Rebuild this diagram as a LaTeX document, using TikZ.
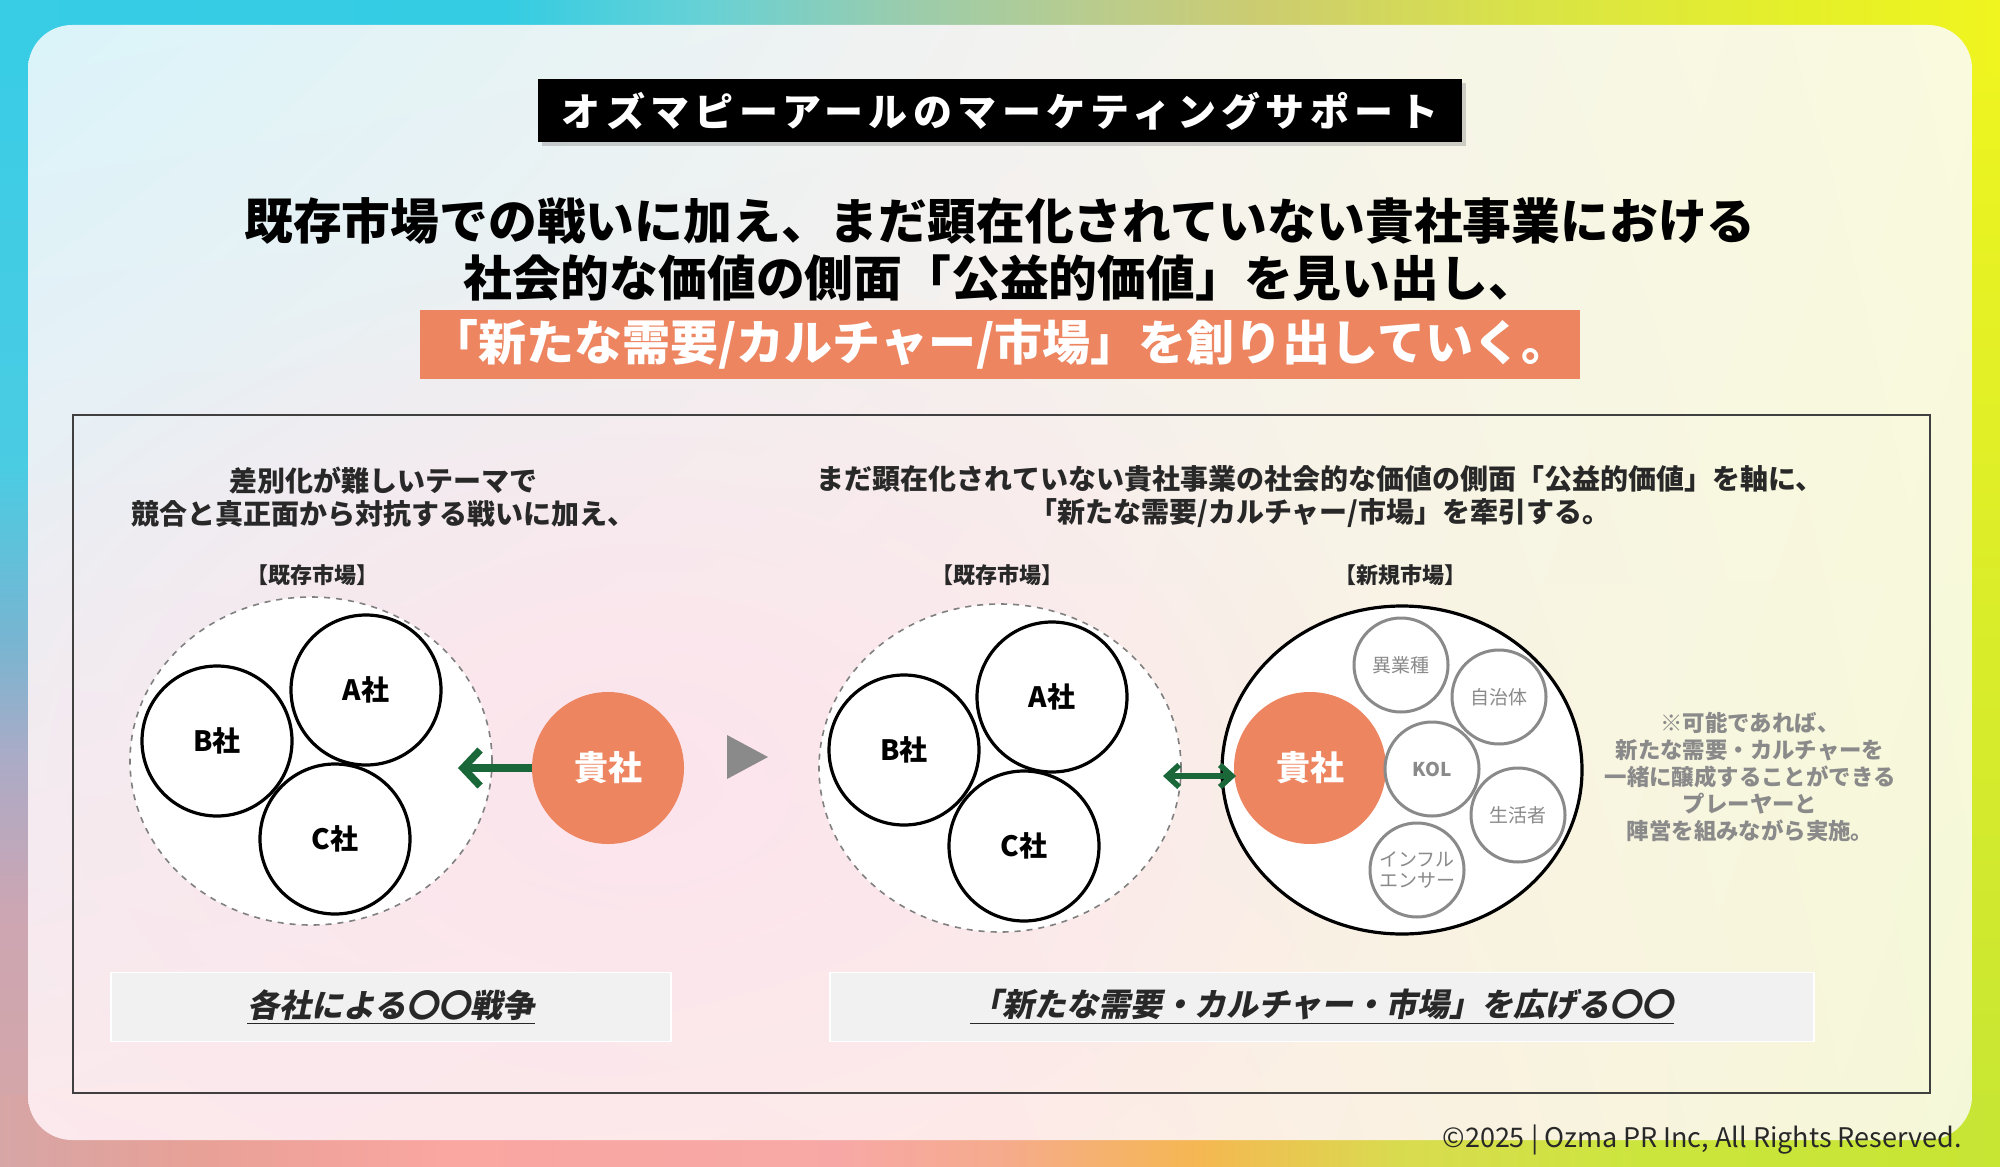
\documentclass[tikz,border=0pt]{standalone}
\usepackage{fontspec}
\setmainfont{Noto Sans CJK JP}
\usetikzlibrary{shapes.geometric,arrows.meta,shadows,shadings,fadings}

\newcommand{\ozfs}[2]{\fontsize{#1}{#2}\selectfont}

\definecolor{ozorange}{RGB}{236,133,96}
\definecolor{ozgreen}{RGB}{26,104,58}
\definecolor{plgray}{RGB}{138,138,138}
\definecolor{txtdark}{RGB}{40,40,40}
\definecolor{boxgray}{RGB}{241,241,241}
\definecolor{bgTR}{rgb}{0.94,0.96,0.12}
\definecolor{bgBR}{rgb}{0.78,0.90,0.20}
\definecolor{pinkglow}{RGB}{253,228,236}
\tikzfading[name=glowfade, inner color=transparent!0, outer color=transparent!100]
% outer gradient (stops kept in 25bp..75bp)
\pgfdeclarehorizontalshading{topstrip}{100bp}{rgb(0bp)=(0.22,0.80,0.90); rgb(25bp)=(0.22,0.80,0.90); rgb(37.5bp)=(0.20,0.80,0.89);
  rgb(42.5bp)=(0.40,0.82,0.84); rgb(47.5bp)=(0.60,0.80,0.68); rgb(52.5bp)=(0.73,0.80,0.55); rgb(56.5bp)=(0.80,0.80,0.44);
  rgb(63bp)=(0.85,0.89,0.28); rgb(70bp)=(0.90,0.94,0.16); rgb(75bp)=(0.94,0.96,0.12); rgb(100bp)=(0.94,0.96,0.12)}
\pgfdeclarehorizontalshading{bottomstrip}{100bp}{rgb(0bp)=(0.84,0.65,0.65); rgb(25bp)=(0.84,0.65,0.65); rgb(30bp)=(0.91,0.63,0.59);
  rgb(36bp)=(0.98,0.65,0.63); rgb(46bp)=(0.97,0.66,0.65); rgb(50bp)=(0.96,0.67,0.55); rgb(55bp)=(0.96,0.72,0.32);
  rgb(60bp)=(0.85,0.86,0.31); rgb(66bp)=(0.80,0.90,0.24); rgb(75bp)=(0.78,0.90,0.20); rgb(100bp)=(0.78,0.90,0.20)}
\pgfdeclareverticalshading{leftcol}{100bp}{rgb(0bp)=(0.84,0.65,0.65); rgb(25bp)=(0.84,0.65,0.65); rgb(36bp)=(0.80,0.65,0.70);
  rgb(42.5bp)=(0.67,0.67,0.78); rgb(47.5bp)=(0.47,0.71,0.82); rgb(55bp)=(0.29,0.80,0.89); rgb(75bp)=(0.22,0.80,0.90); rgb(100bp)=(0.22,0.80,0.90)}
% card gradient
\definecolor{cdUL}{RGB}{218,244,250}
\definecolor{cdUM}{RGB}{242,242,240}
\definecolor{cdUR}{RGB}{250,250,222}
\definecolor{cdLL}{RGB}{252,233,237}
\definecolor{cdLM}{RGB}{253,236,232}
\definecolor{cdLR}{RGB}{245,248,216}

\begin{document}
\begin{tikzpicture}[x=0.5pt,y=-0.5pt,
  titlebox/.style={fill=black, text=white, minimum width=462pt, minimum height=31.5pt, inner sep=0pt,
    font={\ozfs{19.5}{22}\bfseries\addfontfeature{LetterSpace=14}},
    drop shadow={shadow xshift=2pt, shadow yshift=-2pt, opacity=0.35}},
  headline/.style={inner sep=0pt, text=black, font={\ozfs{24.4}{28}\bfseries}},
  orangeband/.style={fill=ozorange, text=white, minimum width=580pt, minimum height=34.5pt, inner sep=0pt,
    font={\ozfs{24}{28}\bfseries}},
  framebox/.style={draw=black!75, line width=0.9pt},
  subtext/.style={align=center, text=txtdark, inner sep=0pt, font={\ozfs{14}{16.5}\bfseries}},
  mktlabel/.style={inner sep=0pt, text=txtdark, font={\ozfs{11}{13}\bfseries}},
  market/.style={ellipse, draw=black!50, dashed, line width=0.8pt, fill=white, minimum width=181pt, minimum height=164pt},
  newmarket/.style={ellipse, draw=black, line width=1.6pt, fill=white, minimum width=180pt, minimum height=164pt},
  company/.style={circle, draw=black, line width=1.6pt, fill=white, minimum size=75pt, inner sep=0pt,
    font={\ozfs{14}{16}\bfseries}},
  ourco/.style={circle, fill=ozorange, text=white, minimum size=76pt, inner sep=0pt, font={\ozfs{17}{19}\bfseries}},
  player/.style={circle, draw=plgray, line width=1.5pt, fill=white, text=plgray, minimum size=47pt, inner sep=0pt,
    align=center, font={\ozfs{9.5}{10.5}}},
  pusharrow/.style={draw=ozgreen, line width=3.7pt, -{Straight Barb[length=8.5pt, width=18pt, line width=3.7pt]}},
  bothways/.style={draw=ozgreen, line width=2.8pt, {Straight Barb[length=6pt, width=11pt, line width=2.8pt]}-{Straight Barb[length=6pt, width=11pt, line width=2.8pt]}},
  note/.style={align=center, text=plgray, inner sep=0pt, font={\ozfs{11.2}{13.5}\bfseries}},
  resultbox/.style={fill=boxgray, draw=white, line width=0.6pt, minimum height=34.5pt, inner sep=0pt, text=txtdark,
    font={\ozfs{16}{18}\bfseries\addfontfeature{FakeSlant=0.2}}},
  copyr/.style={inner sep=0pt, text=txtdark, font={\ozfs{13.5}{15}}}
]
\useasboundingbox (0,0) rectangle (2000,1166);

% background
\shade[shading=leftcol] (0,0) rectangle (80,1166);
\shade[top color=bgTR, bottom color=bgBR] (1920,0) rectangle (2000,1166);
\shade[shading=topstrip] (0,0) rectangle (2000,75);
\shade[shading=bottomstrip] (0,1095) rectangle (2000,1166);
\begin{scope}
\clip[rounded corners=22pt] (28,25) rectangle (1972,1140);
\shade[upper left=cdUL, upper right=cdUM, lower left=cdLL, lower right=cdLM] (28,25) rectangle (1000,1140);
\shade[upper left=cdUM, upper right=cdUR, lower left=cdLM, lower right=cdLR] (1000,25) rectangle (1972,1140);
\fill[pinkglow, path fading=glowfade] (640,780) ellipse (760 and 520);
\end{scope}

% heading
\node[titlebox] (title) at (1000,111) {オズマピーアールのマーケティングサポート};
\node[headline] (head1) at (1000,221) {既存市場での戦いに加え、まだ顕在化されていない貴社事業における};
\node[headline] (head2) at (1000,278) {社会的な価値の側面「公益的価値」を見い出し、};
\node[orangeband] (band) at (1000,344) {「新たな需要/カルチャー/市場」を創り出していく。};

\draw[framebox] (73,415) rectangle (1930,1093);

\node[subtext] (lefttext) at (383,497) {差別化が難しいテーマで\\競合と真正面から対抗する戦いに加え、};
\node[subtext] (righttext) at (1320,497) {まだ顕在化されていない貴社事業の社会的な価値の側面「公益的価値」を軸に、\\「新たな需要/カルチャー/市場」を牽引する。};

\node[mktlabel] (lbl1) at (312,575) {【既存市場】};
\node[mktlabel] (lbl2) at (997,575) {【既存市場】};
\node[mktlabel] (lbl3) at (1400,575) {【新規市場】};

% left: existing market
\node[market] (exist1) at (311,761) {};
\node[company] (a1) at (366,690) {A社};
\node[company] (b1) at (217,741) {B社};
\node[company] (c1) at (335,839) {C社};
\node[ourco] (kisha1) at (608,768) {貴社};
\coordinate (tip1) at (458,768);
\draw[pusharrow] (kisha1.west) -- (tip1);

\fill[plgray] (727,735) -- (768,757) -- (727,779) -- cycle;

% right: existing + new market
\node[market] (exist2) at (1000,768) {};
\node[company] (a2) at (1052,697) {A社};
\node[company] (b2) at (904,750) {B社};
\node[company] (c2) at (1024,846) {C社};
\node[newmarket] (newmkt) at (1402,770) {};
\node[ourco] (kisha2) at (1310,768) {貴社};
\node[player] (gyoshu) at (1401,665) {異業種};
\node[player] (jichi) at (1499,697) {自治体};
\node[player] (kol) at (1432,769) {\bfseries KOL};
\node[player] (seikatsu) at (1518,815) {生活者};
\node[player] (influ) at (1417,870) {インフル\\エンサー};
\coordinate (dblL) at (1163,776);
\coordinate (dblR) at (1236,776);
\draw[bothways] (dblL) -- (dblR);

\node[note] (note) at (1750,777) {※可能であれば、\\新たな需要・カルチャーを\\一緒に醸成することができる\\プレーヤーと\\陣営を組みながら実施。};

% results
\node[resultbox, minimum width=280pt] (res1) at (391,1007) {\underline{各社による〇〇戦争}};
\node[resultbox, minimum width=492pt] (res2) at (1322,1007) {\underline{「新たな需要・カルチャー・市場」を広げる〇〇}};

\node[copyr, anchor=east] (copy) at (1962,1140) {©2025 | Ozma PR Inc, All Rights Reserved.};
\end{tikzpicture}
\end{document}
